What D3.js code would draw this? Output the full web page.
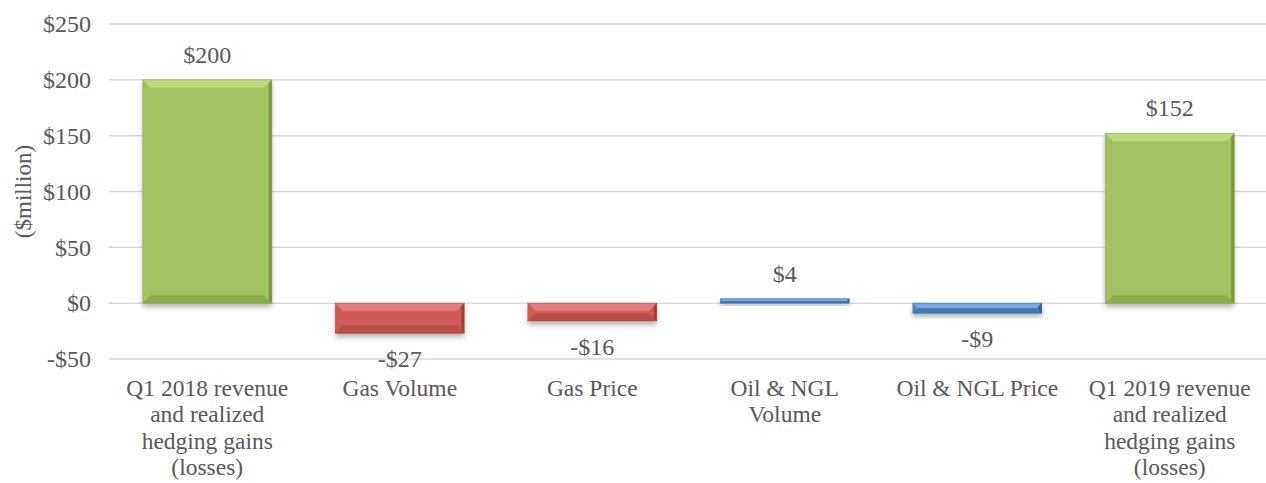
<!doctype html>
<html>
<head>
<meta charset="utf-8" />
<title>Revenue bridge</title>
<script src="https://cdn.jsdelivr.net/npm/d3@7"></script>
<style>
  body { margin: 0; background: #fff; }
  svg text { font-family: 'Liberation Serif', serif; fill: #595959; }
</style>
</head>
<body>
<svg id="chart" width="1266" height="483"></svg>
<script>
var categories = [
    'Q1 2018 revenue\nand realized\nhedging gains\n(losses)',
    'Gas Volume',
    'Gas Price',
    'Oil & NGL\nVolume',
    'Oil & NGL Price',
    'Q1 2019 revenue\nand realized\nhedging gains\n(losses)'
];
var values = [200, -27, -16, 4, -9, 152];
var kinds = ['total', 'down', 'down', 'up', 'up', 'total'];
var yTicks = [-50, 0, 50, 100, 150, 200, 250];

var colors = {
    total: { base: '#a2c161', light: '#bcd97c', dark: '#8dab4f', side: '#7c9543' },
    down:  { base: '#d05a57', light: '#e37c79', dark: '#b94b48', side: '#a13f3d' },
    up:    { base: '#4f86c6', light: '#79a9e0', dark: '#4076b5', side: '#335f94' }
};
var FONT = "'Liberation Serif', serif";

var svg = d3.select('#chart');
var margin = { top: 24, right: 0, bottom: 124, left: 111 };
var width = 1266 - margin.left - margin.right;
var height = 483 - margin.top - margin.bottom;

var defs = svg.append('defs');
var filter = defs.append('filter').attr('id', 'shadow')
    .attr('x', '-10%').attr('y', '-10%').attr('width', '130%').attr('height', '160%');
filter.append('feDropShadow')
    .attr('dx', 0).attr('dy', 4).attr('stdDeviation', 2.5)
    .attr('flood-color', '#000').attr('flood-opacity', 0.28);

var g = svg.append('g').attr('transform', 'translate(' + margin.left + ',' + margin.top + ')');

var x = d3.scaleBand().domain(d3.range(categories.length)).range([0, width]).paddingInner(0.33).paddingOuter(0.165);
var y = d3.scaleLinear().domain([-50, 250]).range([height, 0]);

// gridlines
g.selectAll('line.grid').data(yTicks).enter().append('line')
    .attr('class', 'grid')
    .attr('x1', -2).attr('x2', width)
    .attr('y1', function(d) { return y(d); })
    .attr('y2', function(d) { return y(d); })
    .attr('stroke', '#d9d9d9').attr('stroke-width', 1.5);

// y axis labels
var yAxis = d3.axisLeft(y).tickValues(yTicks)
    .tickFormat(function(d) { return (d < 0 ? '-$' : '$') + Math.abs(d); })
    .tickSize(0).tickPadding(20);
var ya = g.append('g').call(yAxis).attr('font-family', FONT).attr('font-size', 24);
ya.select('.domain').remove();
ya.selectAll('text').attr('fill', '#595959');

svg.append('text')
    .attr('transform', 'translate(31,' + (margin.top + y(100)) + ') rotate(-90)')
    .attr('text-anchor', 'middle')
    .attr('font-family', FONT)
    .attr('font-size', 23)
    .text('($million)');

// bars with bevel
var bars = g.selectAll('g.bar').data(values).enter().append('g').attr('class', 'bar');

bars.each(function(d, i) {
    var c = colors[kinds[i]];
    var x0 = x(i), x1 = x(i) + x.bandwidth();
    var y0 = Math.min(y(0), y(d)), y1 = Math.max(y(0), y(d));
    var h = y1 - y0;
    var b = Math.min(8, h / 2);
    var s = Math.min(3, h / 2);
    var sel = d3.select(this);
    sel.append('rect')
        .attr('x', x0).attr('y', y0).attr('width', x1 - x0).attr('height', h)
        .attr('fill', c.base).attr('filter', 'url(#shadow)');
    // top bevel
    sel.append('polygon')
        .attr('points', [[x0, y0], [x1, y0], [x1 - b, y0 + b], [x0 + b, y0 + b]].join(' '))
        .attr('fill', c.light);
    // bottom bevel
    sel.append('polygon')
        .attr('points', [[x0, y1], [x0 + b, y1 - b], [x1 - b, y1 - b], [x1, y1]].join(' '))
        .attr('fill', c.dark);
    // right edge
    sel.append('polygon')
        .attr('points', [[x1, y0], [x1 - s, y0 + s], [x1 - s, y1 - s], [x1, y1]].join(' '))
        .attr('fill', c.side);
    sel.append('rect')
        .attr('x', x0).attr('y', y0).attr('width', x1 - x0).attr('height', h)
        .attr('fill', 'none').attr('stroke', c.side).attr('stroke-opacity', 0.5).attr('stroke-width', 0.8);
});

// value labels
g.selectAll('text.val').data(values).enter().append('text')
    .attr('class', 'val')
    .attr('x', function(d, i) { return x(i) + x.bandwidth() / 2; })
    .attr('y', function(d) { return d >= 0 ? y(d) - 17 : y(d) + 34; })
    .attr('text-anchor', 'middle')
    .attr('font-family', FONT)
    .attr('font-size', 24)
    .attr('fill', '#404040')
    .text(function(d) { return (d < 0 ? '-$' : '$') + Math.abs(d); });

// category labels
var cats = g.selectAll('text.cat').data(categories).enter().append('text')
    .attr('class', 'cat')
    .attr('x', function(d, i) { return x(i) + x.bandwidth() / 2; })
    .attr('y', height + 37)
    .attr('text-anchor', 'middle')
    .attr('font-family', FONT)
    .attr('font-size', 23.5);
cats.each(function(d) {
    var t = d3.select(this);
    d.split('\n').forEach(function(line, k) {
        t.append('tspan').attr('x', t.attr('x')).attr('dy', k === 0 ? 0 : 26.3).text(line);
    });
});
</script>
</body>
</html>
